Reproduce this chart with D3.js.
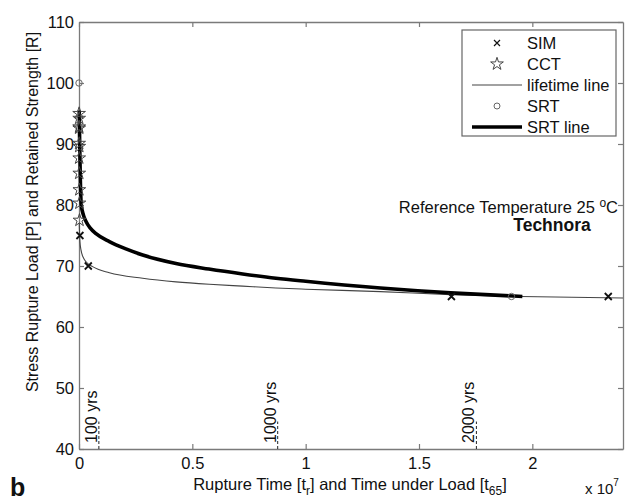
<!DOCTYPE html>
<html>
<head>
<meta charset="utf-8">
<script src="https://cdn.jsdelivr.net/npm/d3@7/dist/d3.min.js"></script>
<style>
  body { margin: 0; background: #fff; }
  text { font-family: Arial, "Liberation Sans", sans-serif; }
</style>
</head>
<body>
<script>
// values, time in hours, load in %
const simT = [40000, 410000, 16430000, 23350000];
const simP = [75, 70, 65, 65];

const cctT = [5000, 8000, 6000, 10000, 7000, 12000, 9000, 11000, 14000, 18000, 22000];
const cctP = [95.0, 94.2, 92.8, 92.6, 90.1, 89.6, 87.7, 85.2, 82.5, 80.3, 77.5];

const srtT = [0, 19080000];
const srtP = [100, 65];

const lifeT = [10000, 40000, 90000, 200000, 310000, 600000, 1340000, 2810000, 4280000,
  5750000, 7220000, 8690000, 10000000, 13300000, 16400000, 19500000, 24000000];
const lifeP = [77, 74, 72.6, 71.3, 70.7, 69.9, 68.9, 68.0, 67.4,
  67.0, 66.7, 66.4, 66.2, 65.8, 65.3, 65.0, 64.75];

const srtLineT = [10000, 30000, 60000, 100000, 200000, 310000, 500000, 750000, 1340000,
  2070000, 2810000, 4280000, 5730000, 7220000, 8690000, 10000000, 13300000, 16400000, 19560000];
const srtLineP = [95.5, 90, 84, 80, 78.3, 77.3, 76.2, 75.3, 74.0,
  72.8, 71.8, 70.4, 69.5, 68.7, 68.0, 67.5, 66.4, 65.6, 65.0];

const yearLabels = ["100 yrs", "1000 yrs", "2000 yrs"];
const yearT = [876600, 8766000, 17532000];

const xTicks = [0, 5e6, 1e7, 1.5e7, 2e7];
const xTickLabels = ["0", "0.5", "1", "1.5", "2"];
const yTicks = [40, 50, 60, 70, 80, 90, 100, 110];

const legendLabels = ["SIM", "CCT", "lifetime line", "SRT", "SRT line"];

const margin = {top: 22, right: 8, bottom: 51, left: 79};
const width = 631 - margin.left - margin.right;
const height = 500 - margin.top - margin.bottom;
const axisGrey = "#7a7a7a";
const fs = "16.5px";

const svg = d3.select("body").append("svg")
  .attr("width", 631)
  .attr("height", 500);

const g = svg.append("g")
  .attr("transform", "translate(" + margin.left + "," + margin.top + ")");

const x = d3.scaleLinear().domain([0, 2.4e7]).range([0, width]);
const y = d3.scaleLinear().domain([40, 110]).range([height, 0]);

// axes, matlab style box with inward ticks
function styleAxis(sel) {
  sel.select(".domain").attr("stroke", axisGrey).attr("stroke-width", 1.3);
  sel.selectAll(".tick line").attr("stroke", axisGrey).attr("stroke-width", 1.2);
  sel.selectAll(".tick text").attr("fill", "#111").style("font-size", fs)
    .style("font-family", "Arial, 'Liberation Sans', sans-serif");
}

g.append("g")
  .attr("transform", "translate(0," + height + ")")
  .call(d3.axisBottom(x).tickValues(xTicks).tickFormat((d, i) => xTickLabels[i])
    .tickSizeInner(-5).tickSizeOuter(0).tickPadding(8))
  .call(styleAxis);

g.append("g")
  .call(d3.axisTop(x).tickValues(xTicks).tickFormat("").tickSizeInner(-5).tickSizeOuter(0))
  .call(styleAxis);

g.append("g")
  .call(d3.axisLeft(y).tickValues(yTicks).tickSizeInner(-5).tickSizeOuter(0).tickPadding(5))
  .call(styleAxis);

g.append("g")
  .attr("transform", "translate(" + width + ",0)")
  .call(d3.axisRight(y).tickValues(yTicks).tickFormat("").tickSizeInner(-5).tickSizeOuter(0))
  .call(styleAxis);

// year markers
yearT.forEach(function(t, i) {
  g.append("line")
    .attr("x1", x(t)).attr("x2", x(t))
    .attr("y1", y(40)).attr("y2", y(44.5))
    .attr("stroke", "#222")
    .attr("stroke-width", 1)
    .attr("stroke-dasharray", "3,2");
  g.append("text")
    .attr("transform", "translate(" + (x(t) - 2) + "," + (y(40) - 6) + ") rotate(-90)")
    .style("font-size", "16px")
    .attr("fill", "#111")
    .text(yearLabels[i]);
});

const line = d3.line()
  .x(d => x(d[0]))
  .y(d => y(d[1]))
  .curve(d3.curveMonotoneX);

g.append("path")
  .datum(lifeT.map((t, i) => [t, lifeP[i]]))
  .attr("fill", "none")
  .attr("stroke", "#444")
  .attr("stroke-width", 1.1)
  .attr("d", line);

g.append("path")
  .datum(srtLineT.map((t, i) => [t, srtLineP[i]]))
  .attr("fill", "none")
  .attr("stroke", "#000")
  .attr("stroke-width", 3.6)
  .attr("d", line);

// markers
const star = d3.symbol().type(d3.symbolStar).size(50);

function drawCross(sel, cx, cy, r, w) {
  sel.append("path")
    .attr("d", "M" + (cx - r) + "," + (cy - r) + "L" + (cx + r) + "," + (cy + r) +
      "M" + (cx - r) + "," + (cy + r) + "L" + (cx + r) + "," + (cy - r))
    .attr("stroke", "#111")
    .attr("stroke-width", w)
    .attr("fill", "none");
}

cctT.forEach(function(t, i) {
  g.append("path")
    .attr("d", star)
    .attr("transform", "translate(" + x(t) + "," + y(cctP[i]) + ")")
    .attr("fill", "none")
    .attr("stroke", "#444")
    .attr("stroke-width", 1);
});

simT.forEach(function(t, i) {
  drawCross(g, x(t), y(simP[i]), 3.5, 1.8);
});

srtT.forEach(function(t, i) {
  g.append("circle")
    .attr("cx", x(t)).attr("cy", y(srtP[i]))
    .attr("r", 3.2)
    .attr("fill", "none")
    .attr("stroke", "#666")
    .attr("stroke-width", 1);
});

// annotation
const ann = svg.append("text")
  .attr("x", 618)
  .attr("y", 213)
  .attr("text-anchor", "end")
  .style("font-size", fs)
  .attr("fill", "#111");
ann.append("tspan").text("Reference Temperature 25 ");
ann.append("tspan").attr("dy", -6).style("font-size", "12px").text("o");
ann.append("tspan").attr("dy", 6).text("C");

svg.append("text")
  .attr("x", 552)
  .attr("y", 231)
  .attr("text-anchor", "middle")
  .style("font-size", "17.5px")
  .style("font-weight", "bold")
  .attr("fill", "#111")
  .text("Technora");

// legend
const legend = svg.append("g");
legend.append("rect")
  .attr("x", 462).attr("y", 30)
  .attr("width", 154).attr("height", 106)
  .attr("fill", "#fff")
  .attr("stroke", "#666")
  .attr("stroke-width", 1.2);

legendLabels.forEach(function(lab, i) {
  const ly = 43 + i * 21;
  if (i === 0) drawCross(legend, 497, ly, 3, 1.2);
  if (i === 1) {
    legend.append("path").attr("d", star)
      .attr("transform", "translate(497," + ly + ")")
      .attr("fill", "none").attr("stroke", "#444").attr("stroke-width", 1);
  }
  if (i === 2 || i === 4) {
    legend.append("line")
      .attr("x1", 472).attr("x2", 522)
      .attr("y1", ly).attr("y2", ly)
      .attr("stroke", i === 2 ? "#444" : "#000")
      .attr("stroke-width", i === 2 ? 1.1 : 3.6);
  }
  if (i === 3) {
    legend.append("circle").attr("cx", 497).attr("cy", ly).attr("r", 3)
      .attr("fill", "none").attr("stroke", "#666").attr("stroke-width", 1);
  }
  legend.append("text")
    .attr("x", 527)
    .attr("y", ly)
    .attr("dy", "0.35em")
    .style("font-size", fs)
    .attr("fill", "#111")
    .text(lab);
});

// axis labels
svg.append("text")
  .attr("transform", "translate(38,212) rotate(-90)")
  .attr("text-anchor", "middle")
  .style("font-size", "16px")
  .attr("fill", "#111")
  .text("Stress Rupture Load [P] and Retained Strength [R]");

const xl = svg.append("text")
  .attr("x", 350)
  .attr("y", 490)
  .attr("text-anchor", "middle")
  .style("font-size", fs)
  .attr("fill", "#111");
xl.append("tspan").text("Rupture Time [t");
xl.append("tspan").attr("dy", 5).style("font-size", "12px").text("r");
xl.append("tspan").attr("dy", -5).text("] and Time under Load [t");
xl.append("tspan").attr("dy", 5).style("font-size", "12px").text("65");
xl.append("tspan").attr("dy", -5).text("]");

const xe = svg.append("text")
  .attr("x", 585)
  .attr("y", 494)
  .style("font-size", "15px")
  .attr("fill", "#111");
xe.append("tspan").text("x 10");
xe.append("tspan").attr("dy", -8).style("font-size", "10px").text("7");

svg.append("text")
  .attr("x", 10)
  .attr("y", 496)
  .style("font-size", "25px")
  .style("font-weight", "bold")
  .attr("fill", "#111")
  .text("b");
</script>
</body>
</html>
